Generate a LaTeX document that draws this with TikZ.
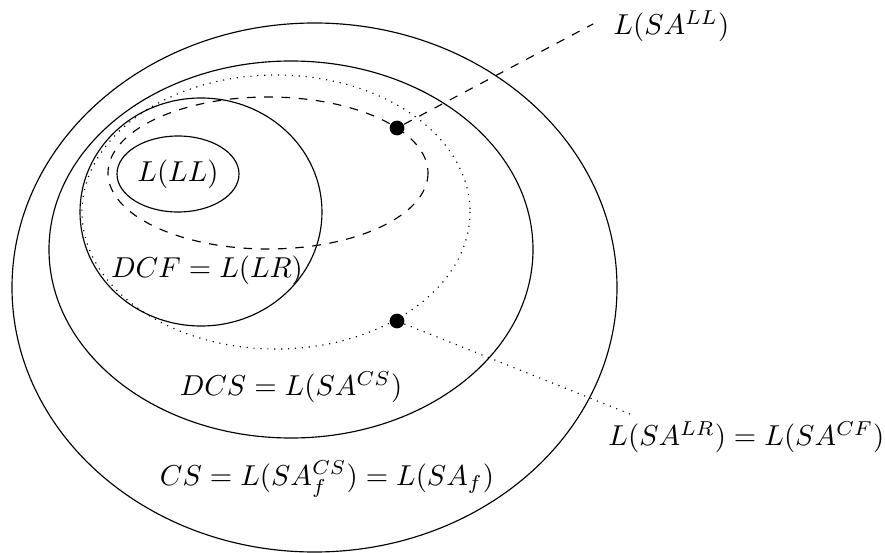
\documentclass[tikz,border=0pt]{standalone}
\usetikzlibrary{positioning}

\begin{document}
\begin{tikzpicture}[
    x=0.0122cm, y=-0.0122cm,
]

% ---------------------------------------------------------------- styles
\tikzset{
    classlabel/.style={inner sep=1pt},
    witness/.style={
        circle, fill=black, inner sep=0pt, minimum size=1.8mm,
    },
}

% ================================================================
% GEOMETRY (pixel grid of the page, y grows downward)
%   CS          centre (314, 287)
%   DCS         centre (291, 249)
%   DCF         centre (201, 212)
%   LL          centre (178, 174)
%   SA^LL band  dashed, SA^LR band dotted
% ================================================================
\useasboundingbox (0,0) rectangle (885,553);

% ---------------------------------------------------------------- the classes
\draw (314.5,287.5) ellipse [x radius=302.5, y radius=264.5];
\draw (291,249.5) ellipse [x radius=242, y radius=188.5];
\draw (201,212) ellipse [x radius=121, y radius=114];
\draw (178,174) ellipse [x radius=61, y radius=38];
\draw[dashed] (268,173) ellipse [x radius=160, y radius=76];
\draw[dotted] (276,212) ellipse [x radius=194, y radius=137];

% ---------------------------------------------------------------- the labels
\node[classlabel] (ll)  at (178,174) {$L(LL)$};
\node[classlabel] (dcf) at (207,270) {$DCF = L(LR)$};
\node[classlabel] (dcs) at (291,387) {$DCS = L(SA^{CS})$};
\node[classlabel] (cs)  at (327,479) {$CS = L(SA^{CS}_f) = L(SA_f)$};

\node[classlabel, anchor=west] (sall) at (610,26) {$L(SA^{LL})$};
\node[classlabel, anchor=west] (salr) at (605,437)
    {$L(SA^{LR}) = L(SA^{CF})$};

% ---------------------------------------------------------------- the pointers
\node[witness] (wll) at (397,128) {};
\node[witness] (wlr) at (397,321) {};

\coordinate (endll) at (593,24);
\coordinate (endlr) at (630,414);

\draw[dashed] (wll) -- (endll);
\draw[dotted] (wlr) -- (endlr);

\end{tikzpicture}
\end{document}
